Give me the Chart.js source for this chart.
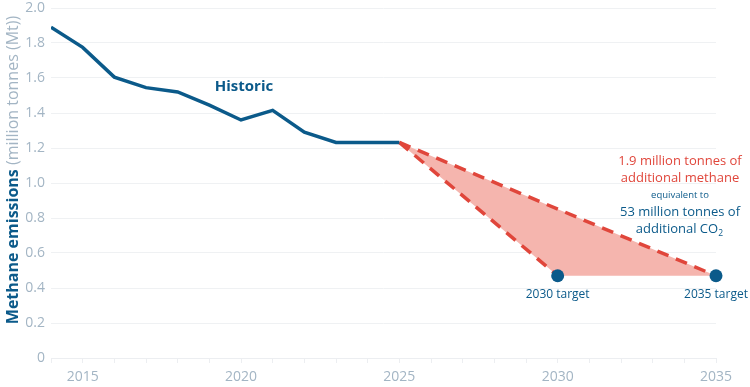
<!DOCTYPE html>
<html>
<head>
<meta charset="utf-8">
<script src="https://cdn.jsdelivr.net/npm/chart.js@4.4.1/dist/chart.umd.min.js"></script>
<style>
  html, body { margin: 0; padding: 0; background: #fff; }
  #wrap { width: 750px; height: 387px; position: relative; }
</style>
</head>
<body>
<div id="wrap"><canvas id="chartMethane"></canvas></div>
<script>
// data
const historicYears = [2014, 2015, 2016, 2017, 2018, 2019, 2020, 2021, 2022, 2023, 2024, 2025];
const historicValues = [1.89, 1.775, 1.605, 1.545, 1.52, 1.445, 1.36, 1.415, 1.29, 1.232, 1.232, 1.232];
const slowYears = [2025, 2035];
const slowValues = [1.232, 0.47];
const fastYears = [2025, 2030];
const fastValues = [1.232, 0.47];
const lowerYears = [2025, 2030, 2035];
const lowerValues = [1.232, 0.47, 0.47];
const targetYears = [2030, 2035];
const targetValues = [0.47, 0.47];
const targetLabels = ['2030 target', '2035 target'];
const yTicks = [0, 0.2, 0.4, 0.6, 0.8, 1.0, 1.2, 1.4, 1.6, 1.8, 2.0];
const xTickYears = [2014, 2015, 2016, 2017, 2018, 2019, 2020, 2021, 2022, 2023, 2024, 2025,
  2026, 2027, 2028, 2029, 2030, 2031, 2032, 2033, 2034, 2035];
const xLabelYears = [2015, 2020, 2025, 2030, 2035];

const blue = '#0b5a8a';
const red = '#e0463b';
const tickGrey = '#a3b5c4';
const font = '"Open Sans", "Noto Sans", sans-serif';

const toPts = (xs, ys) => xs.map((x, i) => ({ x, y: ys[i] }));

// text on top of the chart
const notes = {
  id: 'notes',
  afterDatasetsDraw(chart) {
    const c = chart.ctx;
    const xs = chart.scales.x, ys = chart.scales.y;
    c.save();
    c.textAlign = 'center';
    c.textBaseline = 'middle';

    c.fillStyle = blue;
    c.font = 'bold 15px ' + font;
    c.fillText('Historic', 244, 87);

    c.font = '12px ' + font;
    targetYears.forEach((yr, i) => {
      c.fillText(targetLabels[i], xs.getPixelForValue(yr), ys.getPixelForValue(targetValues[i]) + 19);
    });

    const cx = 680;
    c.fillStyle = red;
    c.font = '13px ' + font;
    c.fillText('1.9 million tonnes of', cx, 161);
    c.fillText('additional methane', cx, 178);
    c.fillStyle = blue;
    c.font = '9.5px ' + font;
    c.fillText('equivalent to', cx, 195);
    c.font = '13px ' + font;
    c.fillText('53 million tonnes of', cx, 212);
    c.textAlign = 'left';
    const t = 'additional CO';
    const w = c.measureText(t).width;
    const sx = cx - (w + 6) / 2;
    c.fillText(t, sx, 229);
    c.font = '8.5px ' + font;
    c.fillText('2', sx + w, 234);

    // y axis title, two styles
    c.translate(13, 170);
    c.rotate(-Math.PI / 2);
    c.textBaseline = 'middle';
    c.textAlign = 'left';
    c.font = 'bold 16px ' + font;
    const a = 'Methane emissions ';
    const aw = c.measureText(a).width;
    c.font = '16px ' + font;
    const b = '(million tonnes (Mt))';
    const bw = c.measureText(b).width;
    const start = -(aw + bw) / 2;
    c.font = 'bold 16px ' + font;
    c.fillStyle = blue;
    c.fillText(a, start, 0);
    c.font = '16px ' + font;
    c.fillStyle = tickGrey;
    c.fillText(b, start + aw, 0);
    c.restore();
  }
};

const ctx = document.getElementById('chartMethane').getContext('2d');
new Chart(ctx, {
  type: 'line',
  data: {
    datasets: [
      {
        label: 'Historic',
        data: toPts(historicYears, historicValues),
        borderColor: blue,
        borderWidth: 3.5,
        pointRadius: 0,
        tension: 0,
        order: 0
      },
      {
        label: '2035 pathway',
        data: toPts(slowYears, slowValues),
        borderColor: red,
        borderWidth: 3.5,
        borderDash: [12, 8],
        pointRadius: 0,
        fill: { target: 2 },
        backgroundColor: '#f5b5ae',
        order: 2
      },
      {
        label: 'lower edge',
        data: toPts(lowerYears, lowerValues),
        borderColor: 'rgba(0,0,0,0)',
        borderWidth: 0,
        pointRadius: 0,
        fill: false,
        order: 3
      },
      {
        label: '2030 pathway',
        data: toPts(fastYears, fastValues),
        borderColor: red,
        borderWidth: 3.5,
        borderDash: [12, 8],
        pointRadius: 0,
        fill: false,
        order: 1
      },
      {
        label: 'Targets',
        data: toPts(targetYears, targetValues),
        showLine: false,
        order: -1,
        clip: false,
        pointRadius: 6.5,
        pointBackgroundColor: blue,
        pointBorderWidth: 0
      }
    ]
  },
  options: {
    responsive: true,
    maintainAspectRatio: false,
    animation: false,
    layout: { padding: { top: 8, right: 34, left: 0, bottom: 0 } },
    plugins: { legend: { display: false }, tooltip: { enabled: false } },
    scales: {
      x: {
        type: 'linear',
        min: 2014,
        max: 2035,
        afterBuildTicks: s => { s.ticks = xTickYears.map(v => ({ value: v })); },
        afterFit: s => { s.height = 29; },
        border: { color: '#eceef1' },
        grid: { drawOnChartArea: false, drawTicks: true, tickLength: 5, color: '#eceef1' },
        ticks: {
          autoSkip: false,
          maxRotation: 0,
          color: tickGrey,
          font: { family: font, size: 14 },
          padding: 6,
          callback: v => xLabelYears.includes(v) ? String(v) : ''
        }
      },
      y: {
        min: 0,
        max: 2,
        afterBuildTicks: s => { s.ticks = yTicks.map(v => ({ value: v })); },
        afterFit: s => { s.width = 51; s.paddingTop = 0; s.paddingBottom = 0; },
        border: { display: false },
        grid: { color: '#eff1f3', drawTicks: false },
        ticks: {
          color: tickGrey,
          font: { family: font, size: 14 },
          padding: 6,
          callback: v => v === 0 ? '0' : v.toFixed(1)
        }
      }
    }
  },
  plugins: [notes]
});
</script>
</body>
</html>
